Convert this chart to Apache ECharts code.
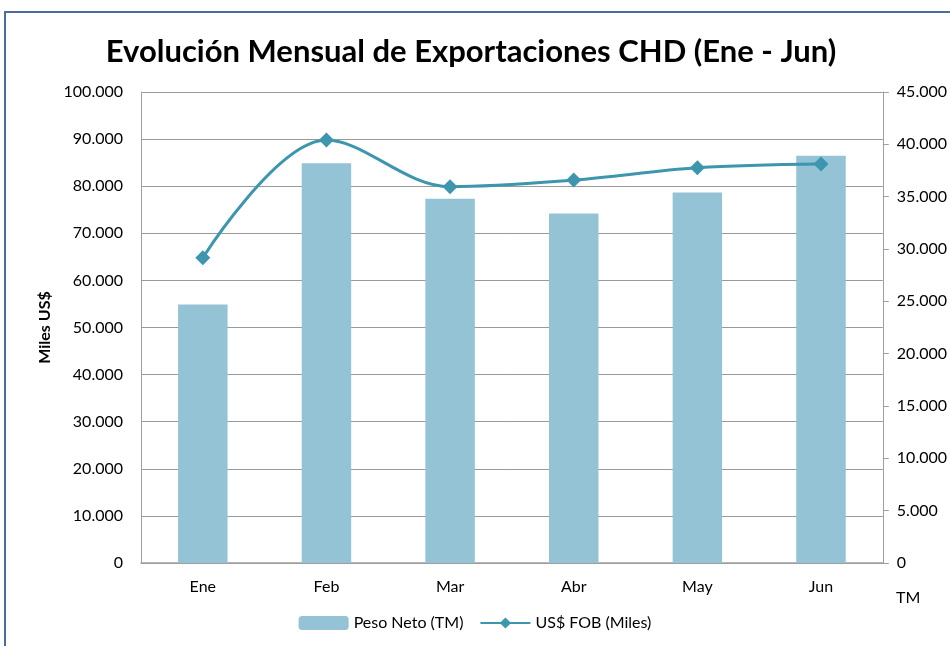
<!DOCTYPE html>
<html>
<head>
<meta charset="utf-8">
<script src="https://cdn.jsdelivr.net/npm/echarts@6/dist/echarts.min.js"></script>
<style>
  html, body { margin: 0; padding: 0; background: #fff; }
  #chart { width: 950px; height: 646px; }
</style>
</head>
<body>
<div id="chart"></div>
<script>
// datos
var meses = ['Ene', 'Feb', 'Mar', 'Abr', 'May', 'Jun'];
var pesoNeto = [24700, 38200, 34800, 33400, 35400, 38900];   // TM (eje derecho)
var fobMiles = [64800, 89800, 79900, 81300, 83900, 84700];   // Miles US$ (eje izquierdo)

var font = 'Lato, "Open Sans", sans-serif';

function miles(v) {
    return String(v).replace(/\B(?=(\d{3})+(?!\d))/g, '.');
}

var chart = echarts.init(document.getElementById('chart'));

var option = {
    backgroundColor: '#fff',
    animation: false,
    textStyle: { fontFamily: font },
    title: {
        text: 'Evolución Mensual de Exportaciones CHD (Ene - Jun)',
        left: 466,
        top: 31,
        textAlign: 'center',
        textStyle: { fontSize: 31, fontWeight: 'bold', color: '#000', fontFamily: font }
    },
    graphic: [{
        type: 'rect',
        shape: { x: 5, y: 12, width: 960, height: 660 },
        style: { fill: 'none', stroke: '#4a6d9c', lineWidth: 2 },
        silent: true
    }, {
        type: 'text',
        left: 896,
        top: 590,
        style: { text: 'TM', font: '16px ' + font, fill: '#000' }
    }],
    legend: {
        bottom: 10,
        left: 'center',
        itemWidth: 50,
        itemHeight: 14,
        itemGap: 16,
        textStyle: { fontSize: 16, color: '#000', fontFamily: font },
        data: ['Peso Neto (TM)', 'US$ FOB (Miles)']
    },
    grid: { left: 141, right: 66, top: 92, bottom: 83 },
    xAxis: {
        type: 'category',
        data: meses,
        axisLine: { lineStyle: { color: '#a0a0a0', width: 1.5 } },
        axisTick: { show: false },
        axisLabel: { color: '#000', fontSize: 16, margin: 16, fontFamily: font }
    },
    yAxis: [{
        type: 'value',
        min: 0,
        max: 100000,
        interval: 10000,
        name: 'Miles US$',
        nameLocation: 'middle',
        nameGap: 86,
        nameTextStyle: { fontSize: 16, fontWeight: 'bold', color: '#000', fontFamily: font },
        axisLine: { show: true, lineStyle: { color: '#a0a0a0' } },
        axisTick: { show: false },
        axisLabel: { color: '#000', fontSize: 16, margin: 18, formatter: miles, fontFamily: font },
        splitLine: { lineStyle: { color: '#9a9a9a', width: 1 } }
    }, {
        type: 'value',
        min: 0,
        max: 45000,
        interval: 5000,
        axisLine: { show: true, lineStyle: { color: '#a0a0a0' } },
        axisTick: { show: true, inside: false, length: 6, lineStyle: { color: '#a0a0a0' } },
        axisLabel: { color: '#000', fontSize: 16, margin: 14, formatter: miles, fontFamily: font },
        splitLine: { show: false }
    }],
    series: [{
        name: 'Peso Neto (TM)',
        type: 'bar',
        yAxisIndex: 1,
        barWidth: '40%',
        itemStyle: { color: '#93c3d5' },
        data: pesoNeto
    }, {
        name: 'US$ FOB (Miles)',
        type: 'line',
        yAxisIndex: 0,
        smooth: 0.35,
        symbol: 'diamond',
        symbolSize: 15,
        lineStyle: { color: '#3d96ad', width: 3 },
        itemStyle: { color: '#3d96ad' },
        data: fobMiles
    }]
};

chart.setOption(option);
</script>
</body>
</html>
